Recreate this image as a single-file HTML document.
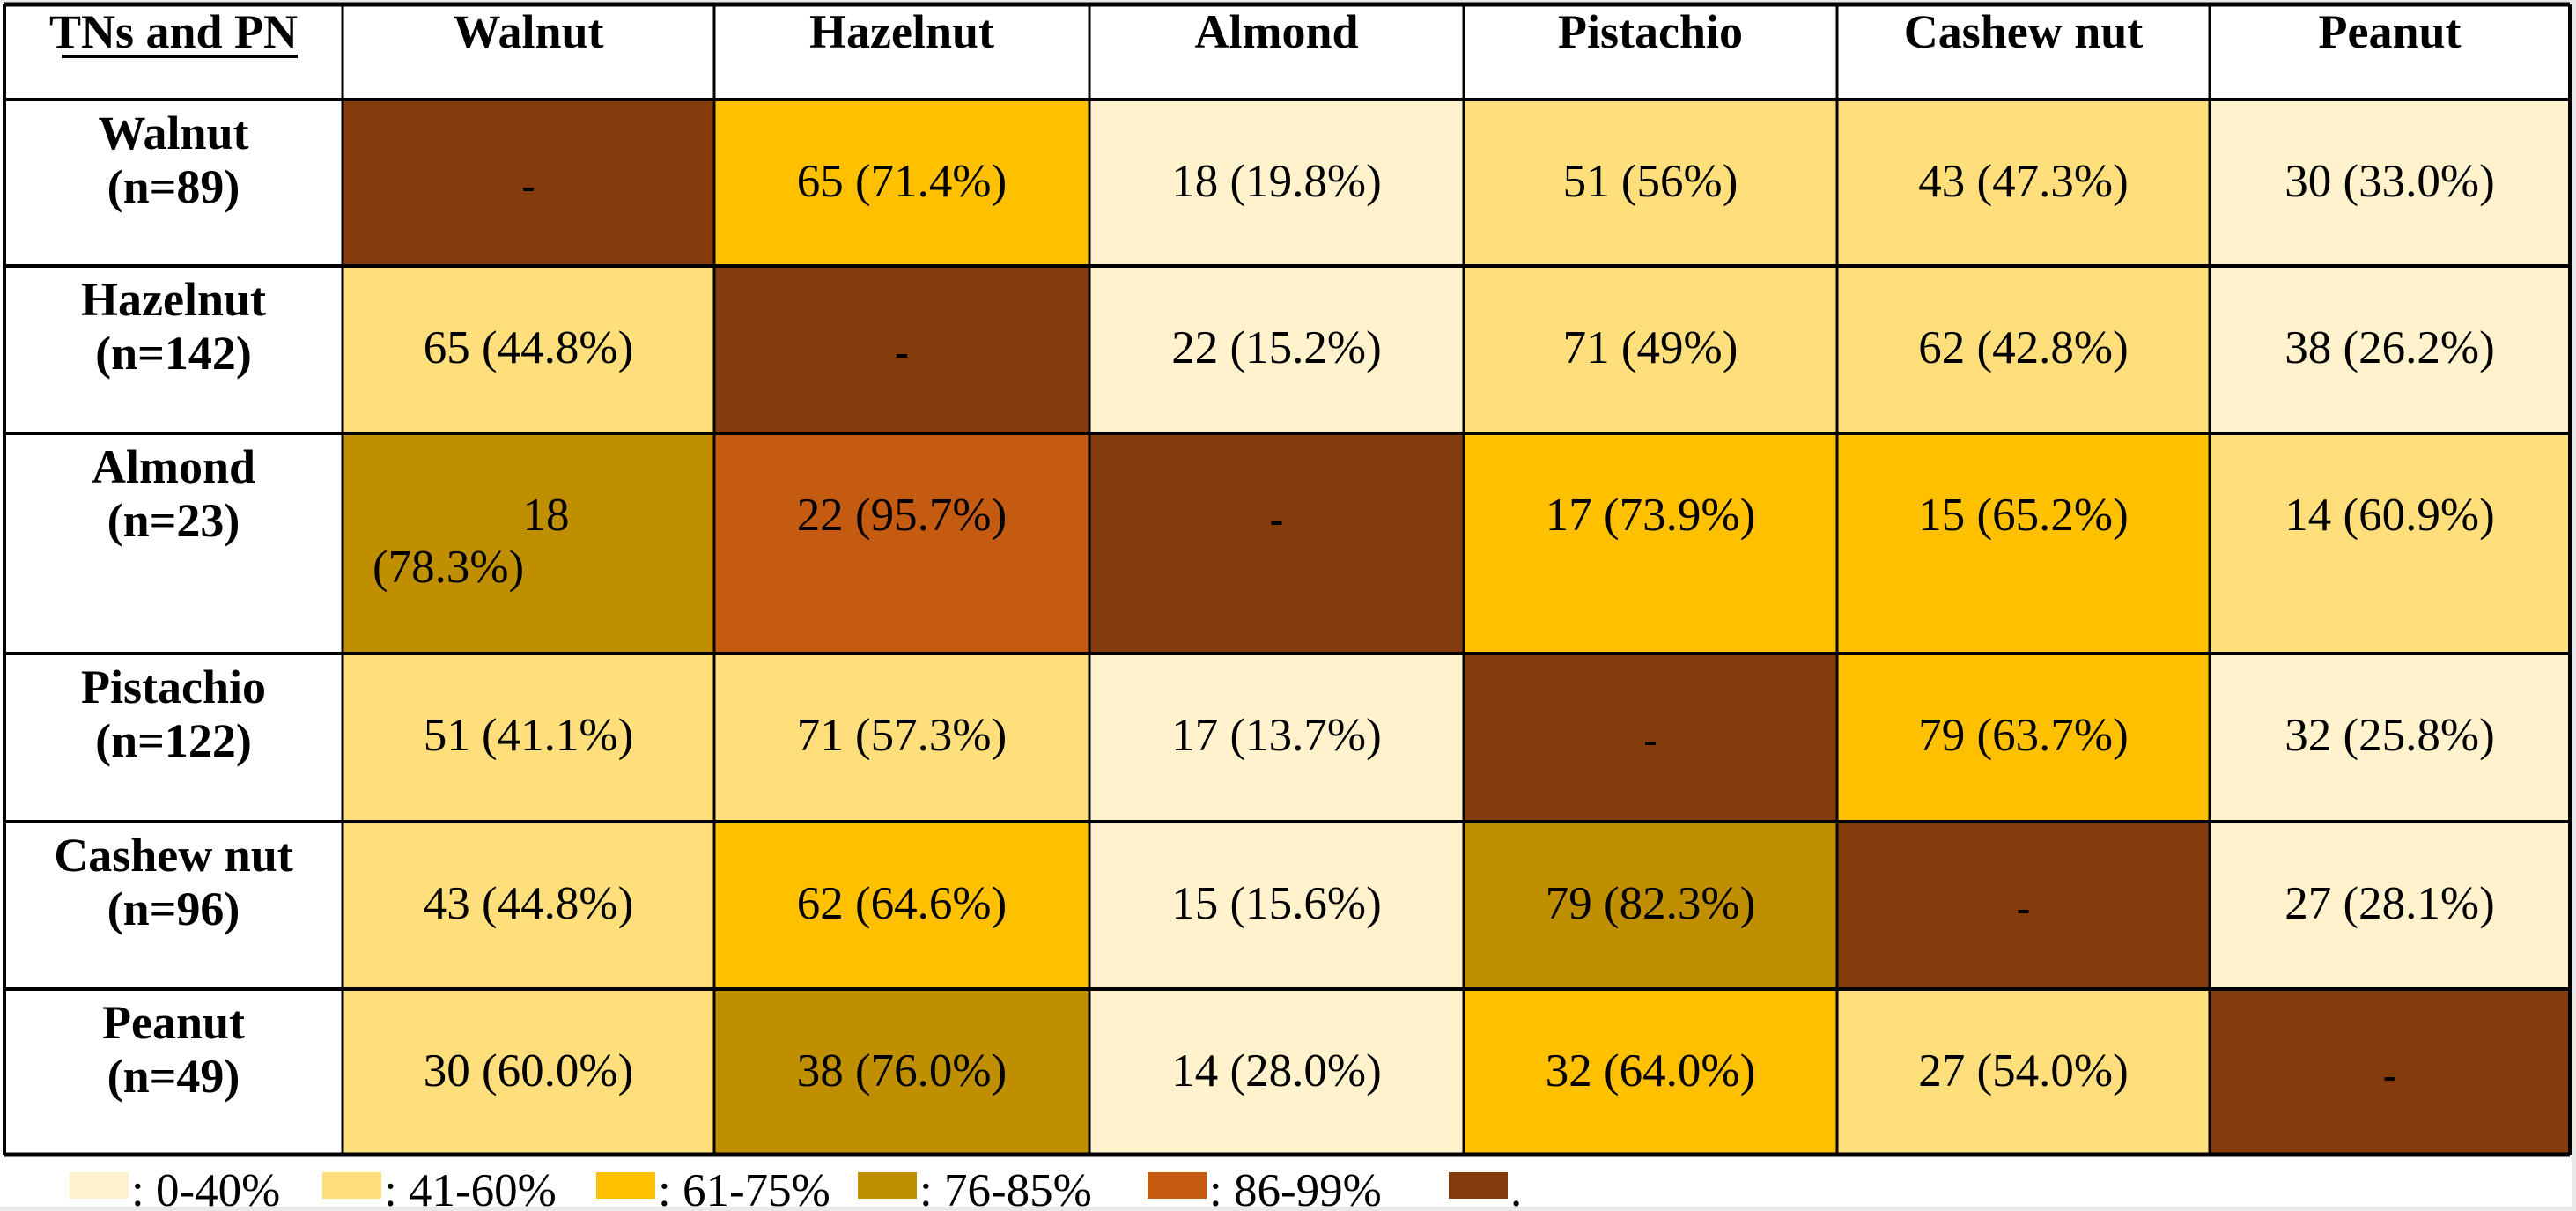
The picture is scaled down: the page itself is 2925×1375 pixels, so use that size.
<!DOCTYPE html>
<html><head><meta charset="utf-8"><style>
html,body{margin:0;padding:0;background:#e9e9e9;width:2925px;height:1375px;overflow:hidden}
svg{display:block}
text{font-family:"Liberation Serif",serif;fill:#000}
</style></head><body>
<svg id="chart" width="2925" height="1375" xmlns="http://www.w3.org/2000/svg">
<rect x="0" y="3" width="2920" height="1367" fill="#ffffff"/>
<g id="cells"></g><g id="grid"></g><g id="labels"></g><g id="legend"></g>
</svg>
<script>
const colNames = ["Walnut","Hazelnut","Almond","Pistachio","Cashew nut","Peanut"];
const rowNames = ["Walnut","Hazelnut","Almond","Pistachio","Cashew nut","Peanut"];
const rowN = [89,142,23,122,96,49];
const counts = [
 [null,65,18,51,43,30],
 [65,null,22,71,62,38],
 [18,22,null,17,15,14],
 [51,71,17,null,79,32],
 [43,62,15,79,null,27],
 [30,38,14,32,27,null]];
const pcts = [
 [null,"71.4","19.8","56","47.3","33.0"],
 [ "44.8",null,"15.2","49","42.8","26.2"],
 [ "78.3","95.7",null,"73.9","65.2","60.9"],
 [ "41.1","57.3","13.7",null,"63.7","25.8"],
 [ "44.8","64.6","15.6","82.3",null,"28.1"],
 [ "60.0","76.0","28.0","64.0","54.0",null]];
const legendLabels = [": 0-40%",": 41-60%",": 61-75%",": 76-85%",": 86-99%","."];
const legendThresholds = [40,60.99,75.99,85.99,99.99];

const palette = ["#FFF2CC","#FFDF7B","#FFC000","#BF8F00","#C55A11","#843C0C"];
const xs = [5,389,811,1237,1662,2086,2509,2918];
const ys = [5,113,302,492,742,933,1123,1311];
const NS="http://www.w3.org/2000/svg";
function colorOf(p){ if(p===null) return palette[5]; const v=parseFloat(p); for(let i=0;i<legendThresholds.length;i++){ if(v<=legendThresholds[i]) return palette[i]; } return palette[4]; }
function mk(tag,attrs,parent){const e=document.createElementNS(NS,tag);for(const k in attrs)e.setAttribute(k,attrs[k]);parent.appendChild(e);return e;}
const cells=document.getElementById('cells'),grid=document.getElementById('grid'),labels=document.getElementById('labels'),legend=document.getElementById('legend');

let t=mk('text',{x:(xs[0]+xs[1])/2,y:54,'text-anchor':'middle','font-size':54,'font-weight':'bold'},labels);


t.textContent="TNs and PN";
mk('rect',{x:70,y:62,width:268,height:4,fill:'#000'},labels);
colNames.forEach((c,j)=>{
 const h=mk('text',{x:(xs[j+1]+xs[j+2])/2,y:54,'text-anchor':'middle','font-size':54,'font-weight':'bold'},labels);
 
 
 h.textContent=c;
});
rowNames.forEach((r,i)=>{
 const top=ys[i+1],bot=ys[i+2];
 const l1=mk('text',{x:(xs[0]+xs[1])/2,y:top+56,'text-anchor':'middle','font-size':54,'font-weight':'bold'},labels);
 
 
 l1.textContent=r;
 const l2=mk('text',{x:(xs[0]+xs[1])/2,y:top+117,'text-anchor':'middle','font-size':54,'font-weight':'bold'},labels);
 
 
 l2.textContent="(n="+rowN[i]+")";
 colNames.forEach((c,j)=>{
  const x0=xs[j+1],x1=xs[j+2];
  const rc=mk('rect',{x:x0,y:top,width:x1-x0,height:bot-top,fill:colorOf(pcts[i][j])},cells);
  
  
  const cx=(x0+x1)/2;
  if(counts[i][j]===null){
   const d=mk('rect',{x:cx-6,y:top+100,width:12,height:4,fill:'#000'},labels);
   
   
  } else if(i===2 && j===0){
   const a=mk('text',{x:cx+20,y:top+110,'text-anchor':'middle','font-size':53},labels);
   
   
   a.textContent=counts[i][j];
   const b=mk('text',{x:x0+34,y:top+169,'font-size':53},labels);
   
   
   b.textContent="("+pcts[i][j]+"%)";
  } else {
   const v=mk('text',{x:cx,y:top+110,'text-anchor':'middle','font-size':53},labels);
   
   
   v.textContent=counts[i][j]+" ("+pcts[i][j]+"%)";
  }
 });
});
xs.forEach((x,k)=>{mk('line',{x1:x,y1:ys[0],x2:x,y2:ys[7],stroke:'#000','stroke-width':(k===0||k===7)?4:3},grid);});
ys.forEach((y,k)=>{mk('line',{x1:xs[0],y1:y,x2:xs[7],y2:y,stroke:'#000','stroke-width':(k===0||k===7)?5:4},grid);});
const lx=[79,366,677,974,1303,1645];
legendLabels.forEach((lab,k)=>{
 const s=mk('rect',{x:lx[k],y:1331,width:67,height:30,fill:palette[k]},legend);
 
 
 const tx=mk('text',{x:lx[k]+70,y:1369,'font-size':53},legend);
 
 
 tx.textContent=lab;
});
</script>
</body></html>
